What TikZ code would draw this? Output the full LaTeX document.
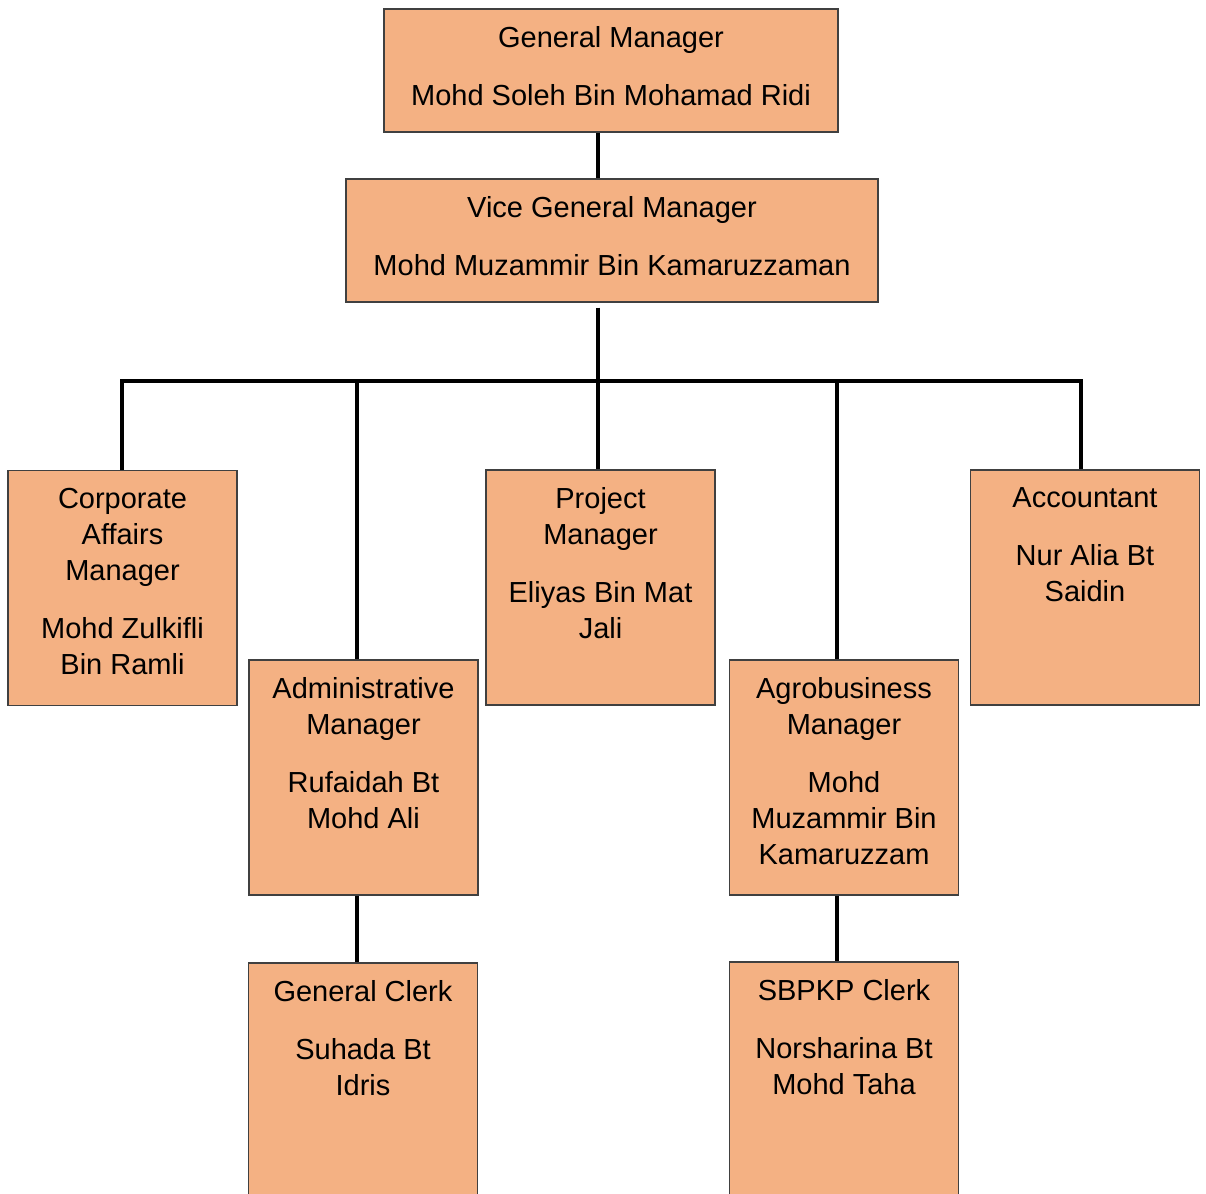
\documentclass[tikz,border=0pt]{standalone}
\usepackage{fontspec}
\setmainfont{Liberation Sans}
\usetikzlibrary{positioning}
\definecolor{peach}{HTML}{F4B183}

\begin{document}
\begin{tikzpicture}[x=1pt,y=-1pt,
  unit/.style={draw=black!75, line width=1.2pt, fill=peach, minimum width=229pt, minimum height=235pt, inner sep=0pt},
  txt/.style={align=center, inner sep=0pt, font=\fontsize{29}{36}\selectfont},
  link/.style={line width=3.6pt}]
  \useasboundingbox (0,0) rectangle (1206,1193);
  \clip (0,0) rectangle (1206,1193);
  % top of the chart
  \node (gm) [unit, minimum width=454pt, minimum height=123pt] at (611,70.5) {};
  \node (gmt) [txt, below=18pt of gm.north] {General Manager\\[22pt]Mohd Soleh Bin Mohamad Ridi};
  \node (vgm) [unit, minimum width=532pt, minimum height=123pt] at (612,240.5) {};
  \node (vgmt) [txt, below=18pt of vgm.north] {Vice General Manager\\[22pt]Mohd Muzammir Bin Kamaruzzaman};
  %
  \node (corp) [unit] at (122.5,588) {};
  \node (corpt) [txt, below=18pt of corp.north] {Corporate\\Affairs\\Manager\\[22pt]Mohd Zulkifli\\Bin Ramli};
  \node (admin) [unit] at (363.5,777.5) {};
  \node (admint) [txt, below=18pt of admin.north] {Administrative\\Manager\\[22pt]Rufaidah Bt\\Mohd Ali};
  \node (proj) [unit] at (600.5,587.5) {};
  \node (projt) [txt, below=18pt of proj.north] {Project\\Manager\\[22pt]Eliyas Bin Mat\\Jali};
  \node (agro) [unit] at (844,777.5) {};
  \node (agrot) [txt, below=18pt of agro.north] {Agrobusiness\\Manager\\[22pt]Mohd\\Muzammir Bin\\Kamaruzzam};
  \node (acct) [unit] at (1085,587.5) {};
  \node (acctt) [txt, below=18pt of acct.north] {Accountant\\[22pt]Nur Alia Bt\\Saidin};
  %
  \node (gclerk) [unit] at (363,1080.5) {};
  \node (gclerkt) [txt, below=18pt of gclerk.north] {General Clerk\\[22pt]Suhada Bt\\Idris};
  \node (sbpkp) [unit] at (844,1079.5) {};
  \node (sbpkpt) [txt, below=18pt of sbpkp.north] {SBPKP Clerk\\[22pt]Norsharina Bt\\Mohd Taha};
  % the lines
  \coordinate (hub) at (598,381);
  \coordinate (b1) at (122,381);
  \coordinate (b2) at (357,381);
  \coordinate (b4) at (837,381);
  \coordinate (b5) at (1081,381);
  \draw[link] (gm.south -| hub) -- (vgm.north -| hub);
  \draw[link, shorten <=5pt] (vgm.south -| hub) -- (hub);
  \draw[link] (corp.north -| b1) -- (b1) -- (b5) -- (acct.north -| b5);
  \draw[link] (b2) -- (admin.north -| b2);
  \draw[link] (hub) -- (proj.north -| hub);
  \draw[link] (b4) -- (agro.north -| b4);
  \draw[link] (admin.south -| b2) -- (gclerk.north -| b2);
  \draw[link] (agro.south -| b4) -- (sbpkp.north -| b4);
\end{tikzpicture}
\end{document}
